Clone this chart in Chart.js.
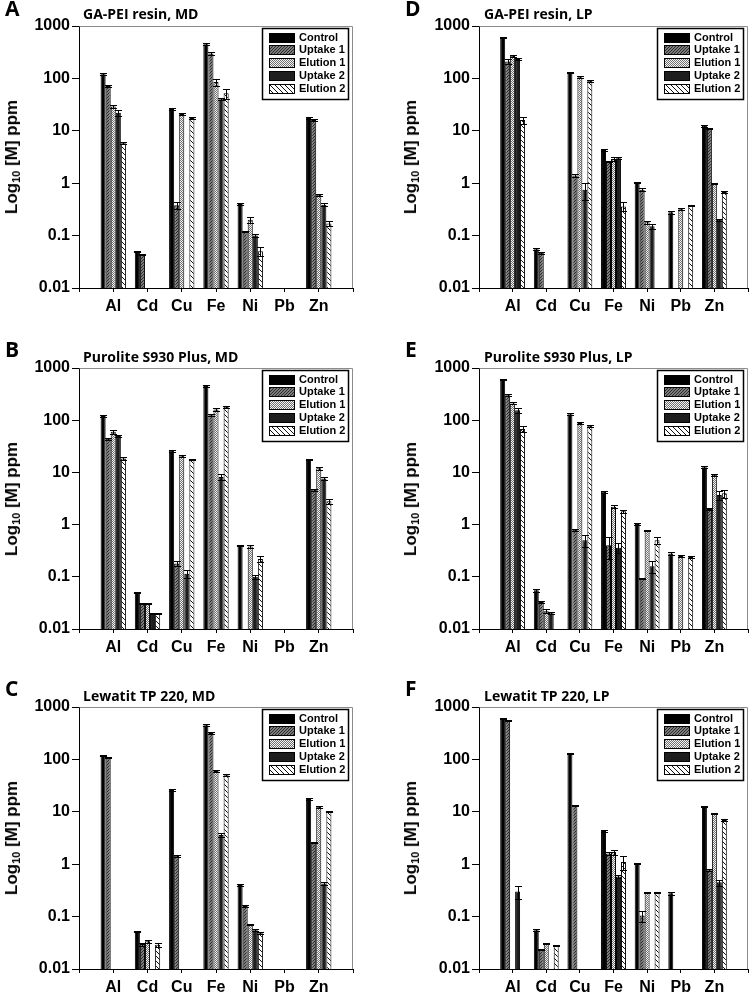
<!DOCTYPE html>
<html>
<head>
<meta charset="utf-8">
<script src="https://cdn.jsdelivr.net/npm/chart.js@4.4.1/dist/chart.umd.min.js"></script>
<style>
  html, body { margin:0; padding:0; background:#fff; }
  body { width:753px; height:995px; position:relative; overflow:hidden; }
  canvas { position:absolute; }
  .letter { position:absolute; font-family:"Open Sans", sans-serif; font-weight:700; font-size:21px; line-height:21px; color:#000; }
  .ptitle { position:absolute; font-family:"Open Sans", sans-serif; font-weight:700; font-size:14px; line-height:14px; color:#000; white-space:nowrap; }
  .ytitle { position:absolute; font-family:"Liberation Sans", Arial, sans-serif; font-weight:700; font-size:17px; color:#000; white-space:nowrap; transform:translate(-50%,-50%) rotate(-90deg); }
  .ytitle sub { font-size:11px; vertical-align:-3px; }
</style>
</head>
<body>
<script>
// ---------- categories, series, tick labels ----------
const elements = ['Al', 'Cd', 'Cu', 'Fe', 'Ni', 'Pb', 'Zn'];
const seriesNames = ['Control', 'Uptake 1', 'Elution 1', 'Uptake 2', 'Elution 2'];
const yTickValues = [0.01, 0.1, 1, 10, 100, 1000];
const yTickLabels = ['0.01', '0.1', '1', '10', '100', '1000'];

// ---------- A: GA-PEI resin, MD ----------
const gaMD_control   = [120, 0.05, 26, 450, 0.4, null, 17.5];
const gaMD_uptake1   = [72, 0.044, 0.38, 300, 0.12, null, 16];
const gaMD_elution1  = [29, null, 21, 85, 0.2, null, 0.6];
const gaMD_uptake2   = [22, null, null, 40, 0.1, null, 0.39];
const gaMD_elution2  = [5.8, null, 17.5, 52, 0.05, null, 0.17];
const gaMD_controlErr  = [5, 0.001, 1, 20, 0.01, null, 0.5];
const gaMD_uptake1Err  = [3, 0.001, 0.06, 15, 0.005, null, 0.5];
const gaMD_elution1Err = [2, null, 1, 12, 0.025, null, 0.03];
const gaMD_uptake2Err  = [2.5, null, null, 2, 0.005, null, 0.02];
const gaMD_elution2Err = [0.3, null, 0.5, 11, 0.01, null, 0.02];

// ---------- B: Purolite S930 Plus, MD ----------
const puMD_control   = [120, 0.05, 26, 450, 0.4, null, 17.5];
const puMD_uptake1   = [44, 0.031, 0.18, 124, null, null, 4.7];
const puMD_elution1  = [60, 0.031, 21, 160, 0.38, null, 12];
const puMD_uptake2   = [50, 0.02, 0.115, 8.2, 0.1, null, 7.6];
const puMD_elution2  = [18.5, 0.02, 17.5, 180, 0.22, null, 2.8];
const puMD_controlErr  = [5, 0.001, 1, 20, 0.01, null, 0.5];
const puMD_uptake1Err  = [2, 0.001, 0.02, 5, null, null, 0.2];
const puMD_elution1Err = [5, 0.001, 1, 8, 0.02, null, 0.8];
const puMD_uptake2Err  = [3, 0.0005, 0.02, 1, 0.01, null, 0.5];
const puMD_elution2Err = [1.5, 0.0005, 0.5, 5, 0.03, null, 0.3];

// ---------- C: Lewatit TP 220, MD ----------
const leMD_control   = [120, 0.052, 26, 450, 0.4, null, 17.5];
const leMD_uptake1   = [110, 0.03, 1.45, 320, 0.16, null, 2.6];
const leMD_elution1  = [null, 0.034, null, 60, 0.071, null, 12.5];
const leMD_uptake2   = [null, null, null, 3.6, 0.055, null, 0.43];
const leMD_elution2  = [null, 0.029, null, 50, 0.048, null, 10];
const leMD_controlErr  = [3, 0.001, 1, 20, 0.01, null, 0.5];
const leMD_uptake1Err  = [3, 0.002, 0.05, 10, 0.005, null, 0.1];
const leMD_elution1Err = [null, 0.002, null, 3, 0.002, null, 0.5];
const leMD_uptake2Err  = [null, null, null, 0.3, 0.002, null, 0.03];
const leMD_elution2Err = [null, 0.003, null, 2, 0.002, null, 0.3];

// ---------- D: GA-PEI resin, LP ----------
const gaLP_control   = [600, 0.055, 130, 4.3, 1.03, 0.28, 12.5];
const gaLP_uptake1   = [210, 0.047, 1.4, 2.6, 0.75, null, 11.2];
const gaLP_elution1  = [270, null, 105, 2.9, 0.18, 0.32, 1.0];
const gaLP_uptake2   = [235, null, 0.75, 3.0, 0.15, null, 0.2];
const gaLP_elution2  = [16, null, 90, 0.36, null, 0.38, 0.68];
const gaLP_controlErr  = [20, 0.002, 5, 0.2, 0.03, 0.02, 0.5];
const gaLP_uptake1Err  = [25, 0.002, 0.08, 0.1, 0.05, null, 0.3];
const gaLP_elution1Err = [15, null, 5, 0.2, 0.01, 0.01, 0.03];
const gaLP_uptake2Err  = [15, null, 0.28, 0.1, 0.015, null, 0.01];
const gaLP_elution2Err = [2.5, null, 3, 0.07, null, 0.01, 0.03];

// ---------- E: Purolite S930 Plus, LP ----------
const puLP_control   = [600, 0.055, 130, 4.3, 1.03, 0.28, 12.5];
const puLP_uptake1   = [300, 0.033, 0.8, 0.4, 0.093, null, 2.0];
const puLP_elution1  = [210, 0.022, 88, 2.2, 0.78, 0.25, 9];
const puLP_uptake2   = [155, 0.02, 0.5, 0.36, 0.16, null, 3.7];
const puLP_elution2  = [68, null, 78, 1.8, 0.5, 0.24, 4.0];
const puLP_controlErr  = [20, 0.003, 5, 0.2, 0.03, 0.02, 0.5];
const puLP_uptake1Err  = [15, 0.001, 0.03, 0.18, 0.003, null, 0.1];
const puLP_elution1Err = [10, 0.002, 3, 0.15, 0.02, 0.01, 0.5];
const puLP_uptake2Err  = [15, 0.001, 0.12, 0.08, 0.04, null, 0.7];
const puLP_elution2Err = [8, null, 3, 0.1, 0.07, 0.01, 0.7];

// ---------- F: Lewatit TP 220, LP ----------
const leLP_control   = [600, 0.055, 130, 4.3, 1.03, 0.28, 12.8];
const leLP_uptake1   = [560, 0.024, 13, 1.6, 0.105, null, 0.77];
const leLP_elution1  = [null, 0.031, null, 1.7, 0.29, null, 9.3];
const leLP_uptake2   = [0.3, null, null, 0.58, null, null, 0.45];
const leLP_elution2  = [null, 0.028, null, 1.1, 0.29, null, 7];
const leLP_controlErr  = [15, 0.002, 5, 0.2, 0.02, 0.02, 0.3];
const leLP_uptake1Err  = [15, 0.0005, 0.3, 0.1, 0.025, null, 0.03];
const leLP_elution1Err = [null, 0.001, null, 0.2, 0.01, null, 0.3];
const leLP_uptake2Err  = [0.08, null, null, 0.03, null, null, 0.06];
const leLP_elution2Err = [null, 0.0005, null, 0.32, 0.01, null, 0.2];

// ---------- panel table (built from the arrays above) ----------
const panels = [
  { letter:'A', title:'GA-PEI resin, MD',        col:0, row:0,
    series:[gaMD_control, gaMD_uptake1, gaMD_elution1, gaMD_uptake2, gaMD_elution2],
    errors:[gaMD_controlErr, gaMD_uptake1Err, gaMD_elution1Err, gaMD_uptake2Err, gaMD_elution2Err] },
  { letter:'B', title:'Purolite S930 Plus, MD',  col:0, row:1,
    series:[puMD_control, puMD_uptake1, puMD_elution1, puMD_uptake2, puMD_elution2],
    errors:[puMD_controlErr, puMD_uptake1Err, puMD_elution1Err, puMD_uptake2Err, puMD_elution2Err] },
  { letter:'C', title:'Lewatit TP 220, MD',      col:0, row:2,
    series:[leMD_control, leMD_uptake1, leMD_elution1, leMD_uptake2, leMD_elution2],
    errors:[leMD_controlErr, leMD_uptake1Err, leMD_elution1Err, leMD_uptake2Err, leMD_elution2Err] },
  { letter:'D', title:'GA-PEI resin, LP',        col:1, row:0,
    series:[gaLP_control, gaLP_uptake1, gaLP_elution1, gaLP_uptake2, gaLP_elution2],
    errors:[gaLP_controlErr, gaLP_uptake1Err, gaLP_elution1Err, gaLP_uptake2Err, gaLP_elution2Err] },
  { letter:'E', title:'Purolite S930 Plus, LP',  col:1, row:1,
    series:[puLP_control, puLP_uptake1, puLP_elution1, puLP_uptake2, puLP_elution2],
    errors:[puLP_controlErr, puLP_uptake1Err, puLP_elution1Err, puLP_uptake2Err, puLP_elution2Err] },
  { letter:'F', title:'Lewatit TP 220, LP',      col:1, row:2,
    series:[leLP_control, leLP_uptake1, leLP_elution1, leLP_uptake2, leLP_elution2],
    errors:[leLP_controlErr, leLP_uptake1Err, leLP_elution1Err, leLP_uptake2Err, leLP_elution2Err] }
];

// ---------- layout (page pixels) ----------
const cols = [
  { x:0,   w:376, left:79,  right:353, letterX:5,   titleX:83,  yTitleX:12 },
  { x:376, w:377, left:479, right:751, letterX:405, titleX:484, yTitleX:411 }
];
const rows = [
  { y:0,   h:325, top:26,  bottom:288, letterY:-2,  titleY:7 },
  { y:325, h:330, top:368, bottom:629, letterY:339, titleY:350 },
  { y:655, h:340, top:707, bottom:969, letterY:678, titleY:689 }
];

// ---------- fill patterns ----------
function pixelPattern(size, fn) {
  const c = document.createElement('canvas');
  c.width = size; c.height = size;
  const g = c.getContext('2d');
  for (let y = 0; y < size; y++) for (let x = 0; x < size; x++) {
    g.fillStyle = fn(x, y); g.fillRect(x, y, 1, 1);
  }
  return g.createPattern(c, 'repeat');
}
const fills = [
  '#000000',
  pixelPattern(3, (x, y) => ((x + y) % 3 === 0 ? '#2a2a2a' : '#7c7c7c')),
  pixelPattern(2, (x, y) => ((x + y) % 2 === 0 ? '#707070' : '#f4f4f4')),
  '#1e1e1e',
  pixelPattern(5, (x, y) => (((x - y) % 5 + 5) % 5 === 0 ? '#111111' : '#ffffff'))
];

// ---------- plugins ----------
const errorBarPlugin = {
  id: 'errorBars',
  afterDatasetsDraw(chart) {
    const ctx = chart.ctx, ys = chart.scales.y;
    ctx.save();
    ctx.strokeStyle = '#000'; ctx.lineWidth = 1;
    chart.data.datasets.forEach((ds, di) => {
      const meta = chart.getDatasetMeta(di);
      meta.data.forEach((bar, i) => {
        const v = ds.data[i], e = ds.errors[i];
        if (v == null || e == null) return;
        const yt = Math.round(ys.getPixelForValue(v + e)) + 0.5;
        const yb = Math.round(ys.getPixelForValue(Math.max(v - e, 0.0101))) + 0.5;
        const x = Math.round(bar.x) + 0.5, hw = bar.width / 2 + 1;
        ctx.beginPath();
        ctx.moveTo(x, yt); ctx.lineTo(x, yb);
        ctx.moveTo(x - hw, yt); ctx.lineTo(x + hw, yt);
        ctx.moveTo(x - hw, yb); ctx.lineTo(x + hw, yb);
        ctx.stroke();
      });
    });
    ctx.restore();
  }
};

const framePlugin = {
  id: 'frame',
  afterDraw(chart) {
    const { ctx, chartArea: a } = chart;
    ctx.save();
    ctx.strokeStyle = '#8c8c8c'; ctx.lineWidth = 1;
    ctx.beginPath();
    ctx.moveTo(Math.round(a.left) + 0.5, Math.round(a.top) + 0.5);
    ctx.lineTo(Math.round(a.right) - 0.5, Math.round(a.top) + 0.5);
    ctx.lineTo(Math.round(a.right) - 0.5, Math.round(a.bottom));
    ctx.stroke();
    ctx.restore();
  }
};

const boxLegendPlugin = {
  id: 'boxLegend',
  afterDraw(chart) {
    const { ctx, chartArea: a } = chart;
    const w = 86, h = 71;
    const bx = Math.round(a.right) - 5 - w, by = Math.round(a.top) + 2;
    ctx.save();
    ctx.fillStyle = '#fff';
    ctx.fillRect(bx, by, w, h);
    ctx.strokeStyle = '#000'; ctx.lineWidth = 1.5;
    ctx.strokeRect(bx + 0.5, by + 0.5, w, h);
    ctx.font = 'bold 11px "Liberation Sans", Arial, sans-serif';
    ctx.textBaseline = 'middle';
    chart.data.datasets.forEach((ds, i) => {
      const cy = by + 9 + i * 12.8;
      const sx = bx + 7, sy = Math.round(cy - 4.5);
      ctx.fillStyle = ds.backgroundColor;
      ctx.fillRect(sx, sy, 25, 9);
      ctx.lineWidth = 1; ctx.strokeStyle = '#000';
      ctx.strokeRect(sx + 0.5, sy + 0.5, 25, 9);
      ctx.fillStyle = '#000';
      ctx.fillText(ds.label, bx + 37, cy + 0.5);
    });
    ctx.restore();
  }
};

// ---------- build the six charts ----------
const xLabels = [''].concat(elements, ['']);
const pad = arr => [null].concat(arr, [null]);

panels.forEach(p => {
  const c = cols[p.col], r = rows[p.row];
  const cv = document.createElement('canvas');
  cv.width = c.w; cv.height = r.h;
  cv.style.left = c.x + 'px'; cv.style.top = r.y + 'px';
  cv.style.width = c.w + 'px'; cv.style.height = r.h + 'px';
  document.body.appendChild(cv);

  const L = document.createElement('div');
  L.className = 'letter'; L.textContent = p.letter;
  L.style.left = c.letterX + 'px'; L.style.top = r.letterY + 'px';
  document.body.appendChild(L);

  const T = document.createElement('div');
  T.className = 'ptitle'; T.textContent = p.title;
  T.style.left = c.titleX + 'px'; T.style.top = r.titleY + 'px';
  document.body.appendChild(T);

  const Y = document.createElement('div');
  Y.className = 'ytitle'; Y.innerHTML = 'Log<sub>10</sub> [M] ppm';
  Y.style.left = c.yTitleX + 'px'; Y.style.top = ((r.top + r.bottom) / 2) + 'px';
  document.body.appendChild(Y);

  const leftLocal = c.left - c.x, rightLocal = c.right - c.x;
  const topLocal = r.top - r.y, bottomLocal = r.bottom - r.y;

  new Chart(cv, {
    type: 'bar',
    data: {
      labels: xLabels,
      datasets: seriesNames.map((name, i) => ({
        label: name,
        data: pad(p.series[i]),
        errors: pad(p.errors[i]),
        backgroundColor: fills[i],
        borderColor: '#000',
        borderWidth: 1,
        categoryPercentage: 0.74,
        barPercentage: 1.0
      }))
    },
    options: {
      responsive: false,
      animation: false,
      devicePixelRatio: 1,
      layout: { padding: { left: 0, top: topLocal, right: c.w - rightLocal, bottom: 0 } },
      plugins: { legend: { display: false }, tooltip: { enabled: false }, title: { display: false } },
      scales: {
        x: {
          type: 'category',
          offset: false,
          grid: { display: true, offset: false, drawOnChartArea: false, drawTicks: true, tickLength: 4, tickColor: '#000' },
          border: { display: true, color: '#000', width: 1 },
          ticks: { autoSkip: false, maxRotation: 0, minRotation: 0, padding: 5, color: '#000',
                   font: { family: '"Liberation Sans", Arial, sans-serif', size: 16, weight: 'bold' } },
          afterFit(s) { s.height = r.h - bottomLocal; }
        },
        y: {
          type: 'logarithmic',
          min: 0.01, max: 1000,
          afterBuildTicks(s) { s.ticks = yTickValues.map(v => ({ value: v, major: true })); },
          grid: { display: true, drawOnChartArea: false, drawTicks: true, tickLength: 7, tickColor: '#000' },
          border: { display: true, color: '#000', width: 1 },
          ticks: { padding: 2, color: '#000',
                   font: { family: '"Liberation Sans", Arial, sans-serif', size: 16, weight: 'bold' },
                   callback: (v) => { const k = yTickValues.indexOf(v); return k >= 0 ? yTickLabels[k] : ''; } },
          afterFit(s) { s.width = leftLocal; }
        }
      }
    },
    plugins: [errorBarPlugin, framePlugin, boxLegendPlugin]
  });
});
</script>
</body>
</html>
